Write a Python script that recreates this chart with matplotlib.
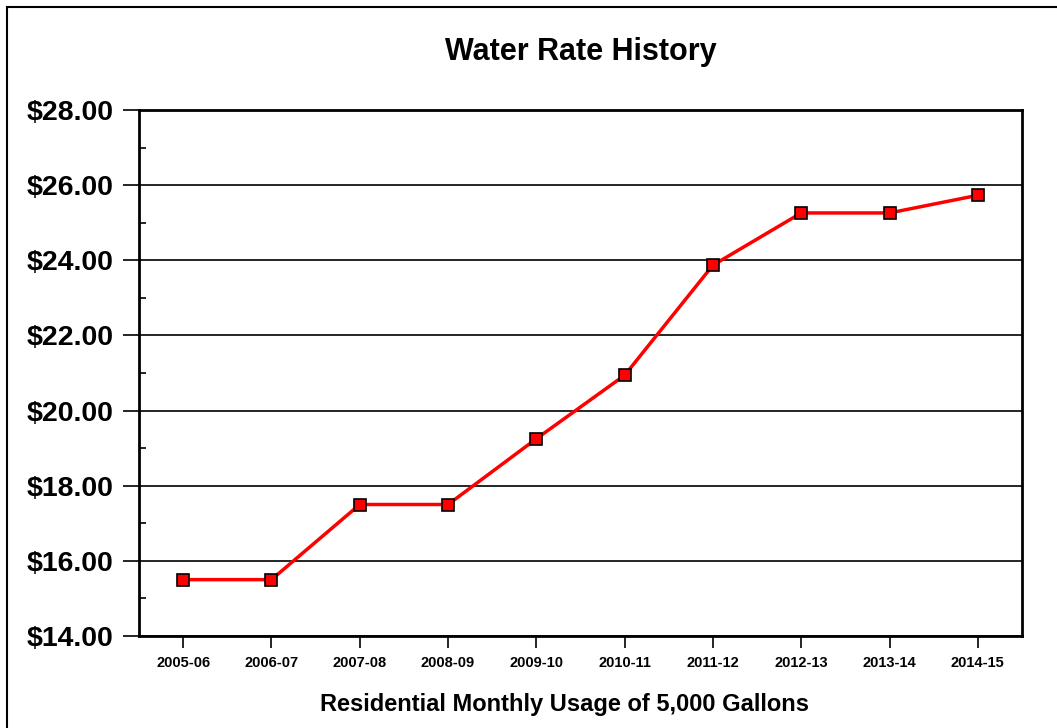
import numpy as np
import matplotlib.pyplot as plt
from matplotlib.patches import Rectangle
from matplotlib.ticker import MultipleLocator, FuncFormatter

years = ['2005-06', '2006-07', '2007-08', '2008-09', '2009-10',
         '2010-11', '2011-12', '2012-13', '2013-14', '2014-15']
rates = [15.50, 15.50, 17.50, 17.50, 19.25, 20.94, 23.87, 25.26, 25.26, 25.73]

plt.rcParams['font.family'] = ['Liberation Sans', 'DejaVu Sans']

fig = plt.figure(figsize=(10.57, 7.28), dpi=100)
# outer chart border
fig.patches.append(Rectangle((7 / 1057, -0.05), 1.1, 1.05 - 7 / 728,
                             transform=fig.transFigure, fill=False,
                             edgecolor='black', linewidth=1.5))

ax = fig.add_axes([139 / 1057, 92 / 728, 883 / 1057, 526 / 728])
x = np.arange(len(years))
ax.plot(x, rates, color='#ff0000', linewidth=2.5, marker='s', markersize=9,
        markerfacecolor='#ff0000', markeredgecolor='black', markeredgewidth=1.2,
        zorder=3)

ax.set_xlim(-0.5, len(years) - 0.5)
ax.set_ylim(14, 28)
ax.yaxis.set_major_locator(MultipleLocator(2))
ax.yaxis.set_minor_locator(MultipleLocator(1))
ax.yaxis.set_major_formatter(FuncFormatter(lambda v, p: '${:.2f}'.format(v)))
ax.set_xticks(x)
ax.set_xticklabels(years, fontsize=10.5, fontweight='bold')
for lbl in ax.get_yticklabels():
    lbl.set_fontsize(20.5)
    lbl.set_fontweight('bold')

ax.grid(axis='y', which='major', color='black', linewidth=1.2)
ax.set_axisbelow(True)
for s in ax.spines.values():
    s.set_linewidth(2)
ax.tick_params(axis='y', which='major', direction='out', length=11.5, width=1.2, pad=7)
ax.tick_params(axis='y', which='minor', direction='in', length=5, width=1.2)
ax.tick_params(axis='x', which='major', direction='out', length=8.6, width=1.2, pad=6)

ax.set_title('Water Rate History', fontsize=22, fontweight='bold', pad=36)
ax.set_xlabel('Residential Monthly Usage of 5,000 Gallons', fontsize=17,
              fontweight='bold')
ax.xaxis.set_label_coords(0.4824, -0.108)

fig.savefig('out.png', dpi=100)
